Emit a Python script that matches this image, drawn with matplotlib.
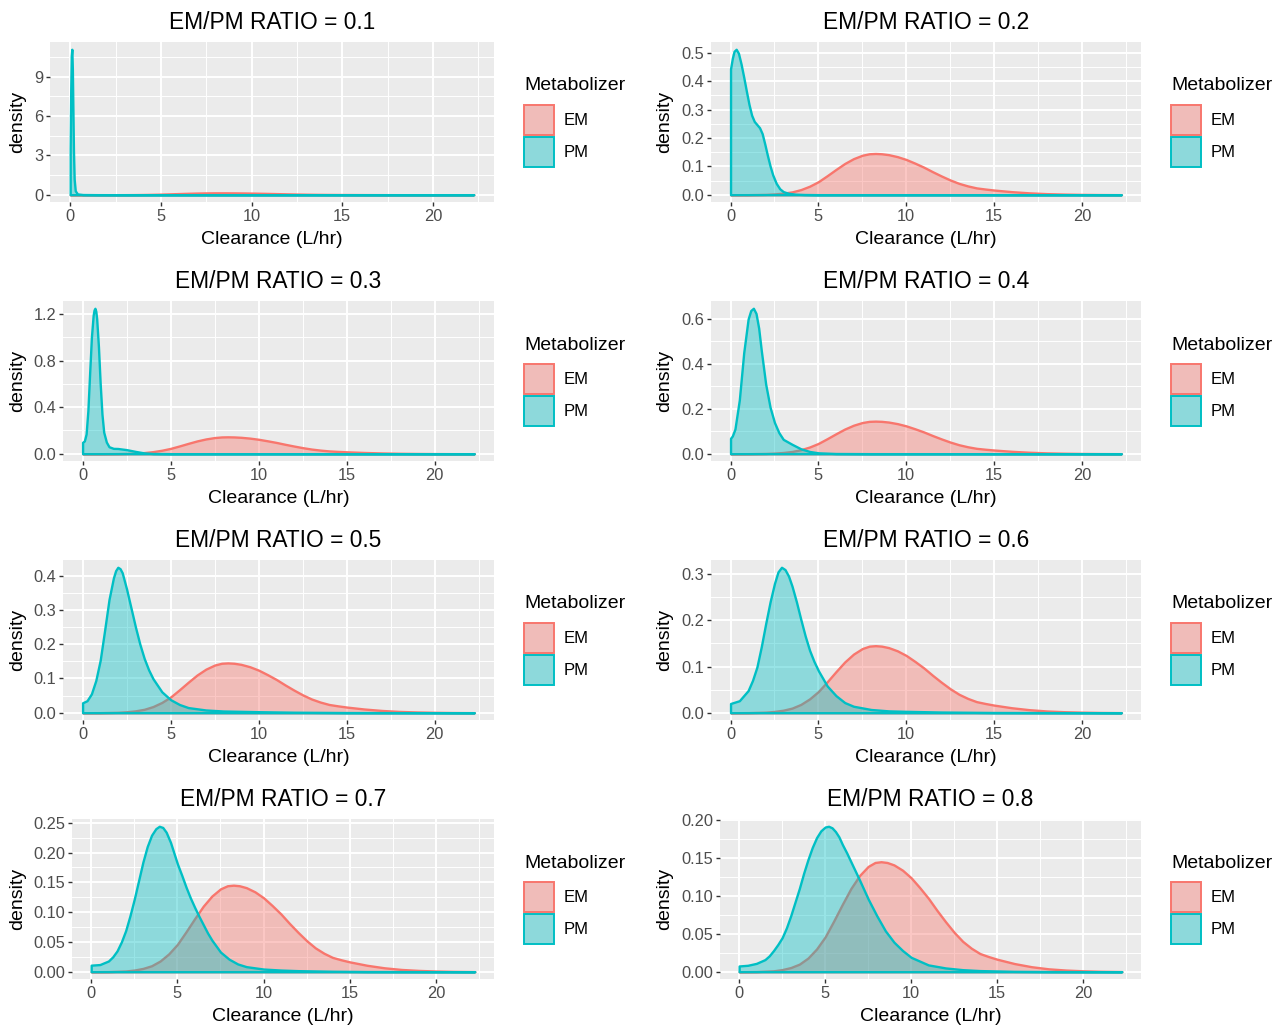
import matplotlib
matplotlib.use("Agg")
import matplotlib.pyplot as plt
from matplotlib.patches import Patch
from matplotlib.ticker import MultipleLocator
from matplotlib.colors import to_rgba

plt.rcParams['font.family'] = ['Liberation Sans', 'DejaVu Sans']

# ---- data ----
ratios = [0.1, 0.2, 0.3, 0.4, 0.5, 0.6, 0.7, 0.8]

# EM density (same in every panel)
em_x = [0, 1, 2, 2.5, 3, 3.5, 4, 4.5, 5, 5.5, 6, 6.5, 7, 7.5, 7.9, 8.25, 8.6, 9, 9.5,
        10, 10.5, 11, 11.5, 12, 12.5, 13, 13.5, 14, 14.5, 15, 16, 17, 18, 19, 20, 21, 22.25]
em_y = [0, 0.0002, 0.0012, 0.0028, 0.0055, 0.010, 0.018, 0.030, 0.046, 0.067,
        0.089, 0.110, 0.127, 0.139, 0.1442, 0.1452, 0.1442, 0.141, 0.134, 0.124, 0.111,
        0.097, 0.081, 0.066, 0.052, 0.040, 0.031, 0.024, 0.020, 0.0165, 0.0108, 0.0066,
        0.0038, 0.0022, 0.0012, 0.0006, 0.0002]

# PM densities, one per ratio
pm01_x = [0, 0.03, 0.06, 0.09, 0.12, 0.15, 0.18, 0.22, 0.28, 0.4, 0.7, 1.5, 3, 22.25]
pm01_y = [3.5, 8.0, 10.6, 11.1, 9.6, 6.5, 3.4, 1.2, 0.3, 0.06, 0.015, 0.005, 0.001, 0]

pm02_x = [0, 0.1, 0.2, 0.32, 0.45, 0.6, 0.75, 0.9, 1.05, 1.2, 1.35, 1.5, 1.65, 1.8,
          1.95, 2.1, 2.25, 2.4, 2.6, 2.8, 3.0, 3.3, 3.7, 4.2, 5, 22.25]
pm02_y = [0.443, 0.48, 0.505, 0.512, 0.498, 0.46, 0.414, 0.365, 0.318, 0.280, 0.258,
          0.247, 0.236, 0.215, 0.178, 0.138, 0.101, 0.070, 0.040, 0.021, 0.011,
          0.005, 0.002, 0.0008, 0.0002, 0]

pm03_x = [0, 0.1, 0.2, 0.3, 0.4, 0.5, 0.6, 0.65, 0.7, 0.75, 0.8, 0.9, 1.0, 1.1, 1.2,
          1.35, 1.5, 1.75, 2.0, 2.5, 3.0, 3.5, 4.0, 5.0, 22.25]
pm03_y = [0.098, 0.11, 0.17, 0.37, 0.69, 1.00, 1.19, 1.235, 1.25, 1.225, 1.16, 0.92,
          0.60, 0.34, 0.185, 0.10, 0.06, 0.046, 0.045, 0.035, 0.02, 0.007, 0.002,
          0.0005, 0]

pm04_x = [0, 0.1, 0.25, 0.5, 0.75, 1.0, 1.15, 1.3, 1.45, 1.6, 1.75, 2.0, 2.25, 2.5,
          2.75, 3.0, 3.5, 4.0, 4.5, 5.0, 6.0, 8.0, 22.25]
pm04_y = [0.069, 0.079, 0.11, 0.24, 0.45, 0.60, 0.638, 0.648, 0.625, 0.56, 0.46,
          0.31, 0.207, 0.139, 0.094, 0.064, 0.042, 0.022, 0.010, 0.004, 0.001, 0.0003, 0]

pm05_x = [0, 0.25, 0.5, 0.75, 1.0, 1.25, 1.5, 1.75, 1.875, 2.0, 2.125, 2.25, 2.5,
          2.75, 3.0, 3.25, 3.5, 3.75, 4.0, 4.5, 5.0, 5.5, 6.0, 7.0, 8.0, 10.0, 12.0,
          15.0, 22.25]
pm05_y = [0.029, 0.035, 0.055, 0.094, 0.153, 0.24, 0.33, 0.393, 0.414, 0.424, 0.420,
          0.408, 0.36, 0.305, 0.25, 0.20, 0.158, 0.125, 0.099, 0.061, 0.038, 0.024,
          0.015, 0.008, 0.005, 0.003, 0.0015, 0.0005, 0]

pm06_x = [0, 0.5, 1.0, 1.25, 1.5, 1.75, 2.0, 2.25, 2.5, 2.7, 2.9, 3.1, 3.3, 3.5, 3.75,
          4.0, 4.25, 4.5, 4.75, 5.0, 5.5, 6.0, 6.5, 7.0, 8.0, 9.0, 10.0, 12.0, 15.0, 22.25]
pm06_y = [0.020, 0.026, 0.048, 0.070, 0.099, 0.143, 0.193, 0.240, 0.280, 0.305, 0.315,
          0.310, 0.296, 0.274, 0.240, 0.202, 0.166, 0.135, 0.111, 0.091, 0.058, 0.037,
          0.022, 0.014, 0.007, 0.004, 0.003, 0.0015, 0.0005, 0]

pm07_x = [0, 0.5, 1.0, 1.25, 1.5, 1.75, 2.0, 2.25, 2.5, 2.75, 3.0, 3.25, 3.5, 3.75,
          3.95, 4.15, 4.35, 4.6, 4.8, 5.0, 5.25, 5.5, 5.75, 6.0, 6.25, 6.5, 6.75, 7.0,
          7.5, 8.0, 8.5, 9.0, 10.0, 11.0, 12.0, 14.0, 16.0, 22.25]
pm07_y = [0.011, 0.012, 0.018, 0.025, 0.035, 0.050, 0.069, 0.094, 0.122, 0.153,
          0.184, 0.210, 0.229, 0.240, 0.244, 0.242, 0.234, 0.217, 0.199, 0.181, 0.162,
          0.142, 0.124, 0.108, 0.093, 0.079, 0.065, 0.053, 0.033, 0.021, 0.013,
          0.0085, 0.0045, 0.0028, 0.0018, 0.0008, 0.0003, 0]

pm08_x = [0, 0.5, 1.0, 1.5, 1.75, 2.0, 2.25, 2.5, 2.75, 3.0, 3.25, 3.5, 3.75, 4.0,
          4.25, 4.5, 4.75, 5.0, 5.2, 5.4, 5.6, 5.8, 6.0, 6.25, 6.5, 6.75, 7.0, 7.5,
          8.0, 8.5, 9.0, 9.5, 10.0, 11.0, 12.0, 13.0, 14.0, 16.0, 18.0, 22.25]
pm08_y = [0.0076, 0.0085, 0.011, 0.016, 0.021, 0.028, 0.036, 0.045, 0.058, 0.074,
          0.092, 0.110, 0.130, 0.148, 0.164, 0.177, 0.186, 0.191, 0.192, 0.190,
          0.185, 0.178, 0.168, 0.157, 0.145, 0.133, 0.121, 0.096, 0.074, 0.054,
          0.039, 0.028, 0.019, 0.009, 0.005, 0.0027, 0.0015, 0.0005, 0.0002, 0]

pm_curves = [(pm01_x, pm01_y), (pm02_x, pm02_y), (pm03_x, pm03_y), (pm04_x, pm04_y),
             (pm05_x, pm05_y), (pm06_x, pm06_y), (pm07_x, pm07_y), (pm08_x, pm08_y)]

ytick_steps = [3, 0.1, 0.4, 0.2, 0.1, 0.1, 0.05, 0.05]
groups = ['EM', 'PM']

# ---- styling ----
EM_COLOR = '#F8766D'
PM_COLOR = '#00BFC4'
ALPHA = 0.4
PANEL_BG = '#EBEBEB'


def key_fill(c):
    r, g, b, _ = to_rgba(c)
    bg = 235 / 255
    return (ALPHA * r + (1 - ALPHA) * bg, ALPHA * g + (1 - ALPHA) * bg,
            ALPHA * b + (1 - ALPHA) * bg)


W, H = 1285, 1030
fig = plt.figure(figsize=(W / 100, H / 100), dpi=100)

# panel boxes in pixels
panel_lefts = [50, 711, 63, 711, 63, 711, 72, 720]
col_rights = [494, 1141]
ylabel_right = [26, 673]
row_tops = [42, 301, 560, 819]
panel_h = 160

for i, ratio in enumerate(ratios):
    row, col = divmod(i, 2)
    l, r = panel_lefts[i], col_rights[col]
    t = row_tops[row]
    b = t + panel_h
    ax = fig.add_axes([l / W, 1 - b / H, (r - l) / W, panel_h / H])
    ax.set_facecolor(PANEL_BG)
    for s in ax.spines.values():
        s.set_visible(False)

    pm_x, pm_y = pm_curves[i]
    ax.fill_between(em_x, 0, em_y, facecolor=to_rgba(EM_COLOR, ALPHA),
                    edgecolor=EM_COLOR, linewidth=1.7, zorder=2)
    ax.fill_between(pm_x, 0, pm_y, facecolor=to_rgba(PM_COLOR, ALPHA),
                    edgecolor=PM_COLOR, linewidth=1.7, zorder=3)

    xmax = max(max(em_x), max(pm_x))
    ymax = max(max(em_y), max(pm_y))
    ax.set_xlim(-0.05 * xmax, 1.05 * xmax)
    ax.set_ylim(-0.05 * ymax, 1.05 * ymax)

    ax.xaxis.set_major_locator(MultipleLocator(5))
    ax.xaxis.set_minor_locator(MultipleLocator(2.5))
    ax.yaxis.set_major_locator(MultipleLocator(ytick_steps[i]))
    ax.yaxis.set_minor_locator(MultipleLocator(ytick_steps[i] / 2))
    ax.set_axisbelow(True)
    ax.grid(which='major', color='white', linewidth=1.4)
    ax.grid(which='minor', color='white', linewidth=0.7)
    ax.tick_params(which='major', length=2.75, width=1.0, color='#333333',
                   labelcolor='#4D4D4D', labelsize=11.8, pad=2.2)
    ax.tick_params(which='minor', length=0)

    ax.set_xlabel('Clearance (L/hr)', fontsize=14, labelpad=5)
    ax.set_ylabel('density', fontsize=14)
    ax.yaxis.set_label_coords((ylabel_right[col] - l) / (r - l), 0.5)
    ax.set_title(f'EM/PM RATIO = {ratio}', fontsize=16.4, pad=9.2)

    # legend: title as its own text so its gap to the keys matches ggplot
    fig.text((r + 30) / W, 1 - (t + 44) / H, 'Metabolizer', fontsize=14,
             ha='left', va='center')
    handles = [Patch(facecolor=key_fill(EM_COLOR), edgecolor=EM_COLOR, linewidth=1.4),
               Patch(facecolor=key_fill(PM_COLOR), edgecolor=PM_COLOR, linewidth=1.4)]
    ax.legend(handles, groups, loc='upper left',
              bbox_to_anchor=((r + 30) / W, 1 - (t + 63) / H),
              bbox_transform=fig.transFigure, frameon=False, fontsize=12,
              handlelength=1.8, handleheight=2.4, handletextpad=0.55,
              labelspacing=0.12, borderpad=0, borderaxespad=0)

fig.savefig('out.png', dpi=100, facecolor='white')
